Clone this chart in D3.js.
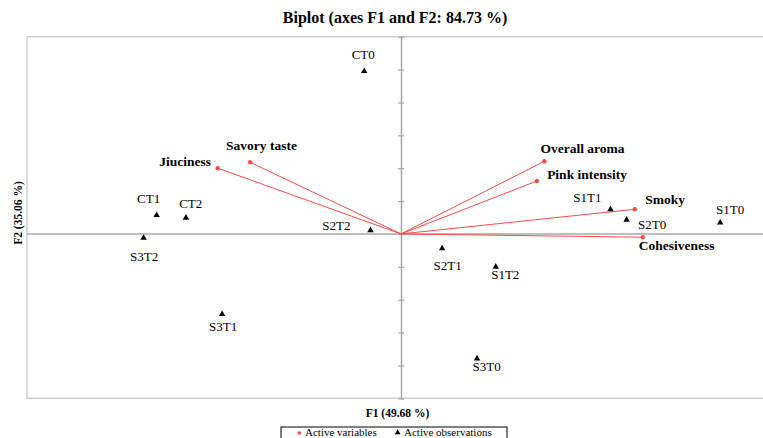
<!DOCTYPE html>
<html>
<head>
<meta charset="utf-8">
<script src="https://cdn.jsdelivr.net/npm/d3@7"></script>
<style>
  html, body { margin: 0; padding: 0; background: #fff; }
  svg { display: block; font-family: "Liberation Serif", "Times New Roman", serif; }
</style>
</head>
<body>
<svg id="chart" width="763" height="438"></svg>
<script>
// Observations (factor scores on F1 / F2)
const obsNames = ["CT0", "CT1", "CT2", "S3T2", "S2T2", "S3T1", "S2T1", "S1T2", "S3T0", "S1T1", "S2T0", "S1T0"];
const obsF1 = [-0.59, -3.92, -3.45, -4.13, -0.49, -2.87, 0.66, 1.52, 1.22, 3.36, 3.62, 5.12];
const obsF2 = [4.95, 0.57, 0.49, -0.12, 0.11, -2.44, -0.44, -1.00, -3.79, 0.75, 0.43, 0.34];

// Active variables (loadings, scaled to the observation space)
const varNames = ["Jiuciness", "Savory taste", "Overall aroma", "Pink intensity", "Smoky", "Cohesiveness"];
const varF1 = [-2.94, -2.42, 2.30, 2.18, 3.75, 3.88];
const varF2 = [2.00, 2.18, 2.21, 1.61, 0.75, -0.10];

// Axis domains and tick values on F2
const xDomain = [-6, 6];
const yDomain = [-5, 6];
const yTicks = d3.range(-5, 7);

const titleText = "Biplot (axes F1 and F2: 84.73 %)";
const xTitle = "F1 (49.68 %)";
const yTitle = "F2 (35.06 %)";
const legendLabels = ["Active variables", "Active observations"];

// Label offsets (text centre relative to the mark), in pixels
const obsLabelOffset = {
  "CT0": [-1, -17], "CT1": [-8, -16.3], "CT2": [4.8, -13.7], "S3T2": [0.5, 19],
  "S2T2": [-34, -4.3], "S3T1": [1, 13], "S2T1": [5.5, 17.4], "S1T2": [9.5, 8.3],
  "S3T0": [9.6, 8.4], "S1T1": [-23, -11.3], "S2T0": [25.5, 4.6], "S1T0": [10, -12.7]
};
const varLabelOffset = {
  "Jiuciness": [-32.5, -6.3], "Savory taste": [11.4, -17], "Overall aroma": [38.2, -12.7],
  "Pink intensity": [50.2, -7], "Smoky": [30.3, -10], "Cohesiveness": [33.7, 8.7]
};

const svg = d3.select("#chart");
const plot = { left: 27, right: 775, top: 36.7, bottom: 398.3 };

const x = d3.scaleLinear().domain(xDomain).range([plot.left, plot.right]);
const y = d3.scaleLinear().domain(yDomain).range([plot.bottom, plot.top]);

// Title
svg.append("text")
  .attr("x", 395).attr("y", 23)
  .attr("text-anchor", "middle")
  .attr("font-weight", "bold").attr("font-size", 16)
  .text(titleText);

// Plot frame
svg.append("rect")
  .attr("x", plot.left).attr("y", plot.top)
  .attr("width", plot.right - plot.left).attr("height", plot.bottom - plot.top)
  .attr("fill", "none").attr("stroke", "#cfcfcf").attr("stroke-width", 1.5);

// Zero axes
svg.append("line")
  .attr("x1", plot.left).attr("x2", plot.right)
  .attr("y1", y(0)).attr("y2", y(0))
  .attr("stroke", "#a8a8a8").attr("stroke-width", 1.5);

const yAxis = d3.axisRight(y).tickValues(yTicks).tickSize(3).tickFormat("");
const yAxisG = svg.append("g").attr("transform", `translate(${x(0)},0)`).call(yAxis);
yAxisG.select(".domain").attr("stroke", "#a8a8a8").attr("stroke-width", 1.5);
yAxisG.selectAll(".tick line").attr("stroke", "#a8a8a8").attr("stroke-width", 1.2)
  .attr("x1", -3).attr("x2", 3);

// Variable vectors
const vars = varNames.map((n, i) => ({ name: n, f1: varF1[i], f2: varF2[i] }));
const vg = svg.append("g");
vg.selectAll("line").data(vars).join("line")
  .attr("x1", x(0)).attr("y1", y(0))
  .attr("x2", d => x(d.f1)).attr("y2", d => y(d.f2))
  .attr("stroke", "#ff4a4a").attr("stroke-width", 1);
vg.selectAll("circle").data(vars).join("circle")
  .attr("cx", d => x(d.f1)).attr("cy", d => y(d.f2))
  .attr("r", 2.2).attr("fill", "#ff4a4a");
vg.selectAll("text").data(vars).join("text")
  .attr("x", d => x(d.f1) + varLabelOffset[d.name][0])
  .attr("y", d => y(d.f2) + varLabelOffset[d.name][1] + 4.5)
  .attr("text-anchor", "middle")
  .attr("font-weight", "bold").attr("font-size", 13.5)
  .text(d => d.name);

// Observations
const obs = obsNames.map((n, i) => ({ name: n, f1: obsF1[i], f2: obsF2[i] }));
const tri = d3.symbol().type(d3.symbolTriangle).size(18);
const og = svg.append("g");
og.selectAll("path").data(obs).join("path")
  .attr("d", tri)
  .attr("transform", d => `translate(${x(d.f1)},${y(d.f2)})`)
  .attr("fill", "#000");
og.selectAll("text").data(obs).join("text")
  .attr("x", d => x(d.f1) + obsLabelOffset[d.name][0])
  .attr("y", d => y(d.f2) + obsLabelOffset[d.name][1] + 4.3)
  .attr("text-anchor", "middle")
  .attr("font-size", 13)
  .text(d => d.name);

// Axis titles
svg.append("text")
  .attr("x", 397.5).attr("y", 417)
  .attr("text-anchor", "middle")
  .attr("font-weight", "bold").attr("font-size", 11.5)
  .text(xTitle);
svg.append("text")
  .attr("transform", "translate(22,213) rotate(-90)")
  .attr("text-anchor", "middle")
  .attr("font-weight", "bold").attr("font-size", 11.5)
  .text(yTitle);

// Legend (the box runs past the lower edge of the page)
const lg = svg.append("g");
lg.append("rect")
  .attr("x", 281).attr("y", 427).attr("width", 226).attr("height", 20)
  .attr("fill", "#fff").attr("stroke", "#000").attr("stroke-width", 1);
lg.append("circle").attr("cx", 299.3).attr("cy", 433).attr("r", 1.8).attr("fill", "#ff4a4a");
lg.append("text").attr("x", 305).attr("y", 435.5).attr("font-size", 11).text(legendLabels[0]);
lg.append("path").attr("d", d3.symbol().type(d3.symbolTriangle).size(14))
  .attr("transform", "translate(397.7,432.5)").attr("fill", "#000");
lg.append("text").attr("x", 404).attr("y", 435.5).attr("font-size", 11).text(legendLabels[1]);
</script>
</body>
</html>
